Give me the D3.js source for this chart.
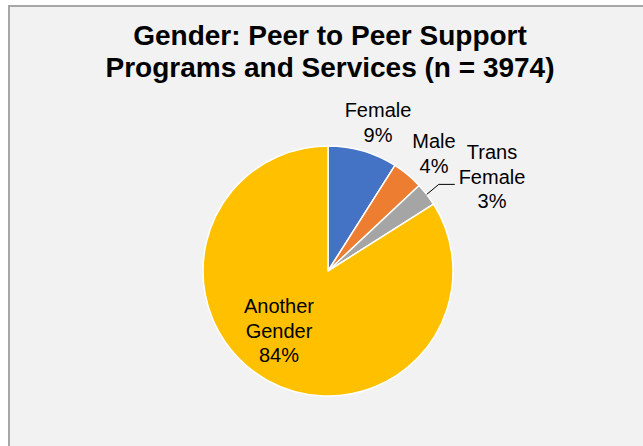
<!DOCTYPE html>
<html>
<head>
<meta charset="utf-8">
<script src="https://cdn.jsdelivr.net/npm/d3@7"></script>
<style>
  html, body { margin: 0; padding: 0; background: #ffffff; }
  svg { display: block; }
  text { font-family: "Liberation Sans", Arial, sans-serif; fill: #000; }
</style>
</head>
<body>
<svg id="chart" width="643" height="446"></svg>
<script>
// ---- data ----
const categories = ["Female", "Male", "Trans Female", "Another Gender"];
const labelLines = [["Female", "9%"], ["Male", "4%"], ["Trans", "Female", "3%"], ["Another", "Gender", "84%"]];
const values = [9, 4, 3, 84];
const titleLines = ["Gender: Peer to Peer Support", "Programs and Services (n = 3974)"];

// ---- layout / style ----
const colors = ["#4472C4", "#ED7D31", "#A5A5A5", "#FFC000"];
const W = 643, H = 446;
const cx = 328, cy = 271, R = 125;
// label centre offsets relative to pie centre (x) and first baseline (y)
const labelPos = [
  { x: 50, y: -154 },
  { x: 106, y: -123 },
  { x: 164, y: -112 },
  { x: -49, y: 42 }
];
const lineH = 24.5;

const svg = d3.select("#chart");

svg.append("rect")
  .attr("x", 9).attr("y", 6)
  .attr("width", W + 20).attr("height", H + 20)
  .attr("fill", "#f2f2f2")
  .attr("stroke", "#a6a6a6")
  .attr("stroke-width", 2);

// title
const title = svg.append("text")
  .attr("text-anchor", "middle")
  .style("font-size", "28px")
  .style("font-weight", "bold");
titleLines.forEach((t, i) => {
  title.append("tspan").attr("x", 330).attr("y", 45 + i * 32).text(t);
});

// pie
const pie = d3.pie().sort(null).value(d => d)
  .startAngle(0).endAngle(2 * Math.PI);
const arcs = pie(values);
const arc = d3.arc().innerRadius(0).outerRadius(R);
const color = d3.scaleOrdinal().domain(categories).range(colors);

const g = svg.append("g").attr("transform", `translate(${cx},${cy})`);

g.selectAll("path.slice")
  .data(arcs)
  .join("path")
  .attr("class", "slice")
  .attr("d", arc)
  .attr("fill", (d, i) => color(categories[i]))
  .attr("stroke", "#ffffff")
  .attr("stroke-width", 1.5)
  .attr("stroke-linejoin", "round");

// leader line for Trans Female
{
  const d = arcs[2];
  const mid = (d.startAngle + d.endAngle) / 2;
  const p0 = [R * Math.sin(mid), -R * Math.cos(mid)];
  const p1 = [p0[0] + 12, p0[1] - 10];
  const p2 = [p1[0] + 16, p1[1]];
  g.append("polyline")
    .attr("points", [p0, p1, p2].map(p => p.join(",")).join(" "))
    .attr("fill", "none")
    .attr("stroke", "#000")
    .attr("stroke-width", 1);
}

// labels
labelLines.forEach((lines, i) => {
  const t = g.append("text")
    .attr("text-anchor", "middle")
    .style("font-size", "20px");
  lines.forEach((l, j) => {
    t.append("tspan")
      .attr("x", labelPos[i].x)
      .attr("y", labelPos[i].y + j * lineH)
      .text(l);
  });
});
</script>
</body>
</html>
